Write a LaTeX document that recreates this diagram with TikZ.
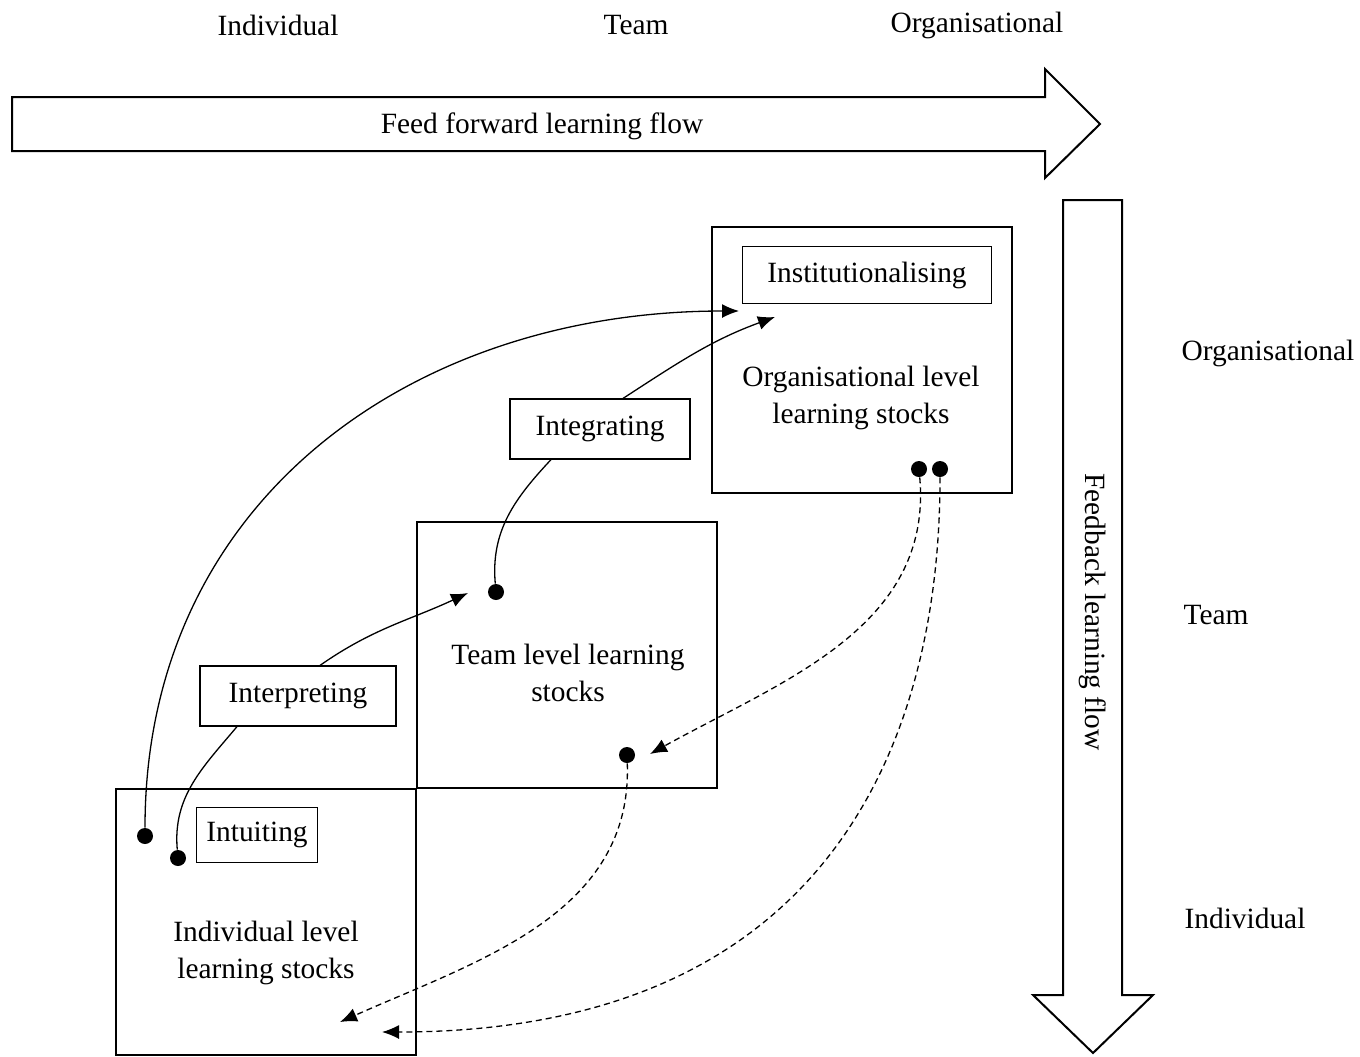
\documentclass[tikz,border=0pt]{standalone}
\usepackage{fontspec}
\setmainfont{Liberation Serif}
\usetikzlibrary{arrows.meta}

\begin{document}
\begin{tikzpicture}[x=0.5pt, y=0.5pt, font=\fontsize{14.7pt}{18.5pt}\selectfont,
                    stock node/.style={draw, line width=1.3pt, minimum width=150pt, minimum height=133pt, inner sep=0pt},
                    process node/.style={draw, line width=0.6pt, inner sep=0pt},
                    dot node/.style={circle, fill, inner sep=0pt, minimum size=8pt},
                    forward line/.style={line width=0.65pt, -{Latex[length=8.5pt,width=7pt]}},
                    back line/.style={forward line, dash pattern=on 3pt off 2pt}]

  \useasboundingbox (0,0) rectangle (1360,-1056);

  % level labels
  \node (top ind) at (278,-25) {Individual};
  \node (top team) at (636,-25) {Team};
  \node (top org) at (977,-25) {Organisational};
  \node (side org) at (1268,-353) {Organisational};
  \node (side team) at (1216,-615) {Team};
  \node (side ind) at (1245,-918) {Individual};

  % the two big flow arrows
  \draw[line width=1pt] (12,-97) -- (1045,-97) -- (1045,-69) -- (1100,-124)
    -- (1045,-178) -- (1045,-151) -- (12,-151) -- cycle;
  \node (ff) at (542,-126) {Feed forward learning flow};
  \draw[line width=1pt] (1063,-200) -- (1122,-200) -- (1122,-995) -- (1153,-995)
    -- (1093,-1053) -- (1033,-995) -- (1063,-995) -- cycle;
  \node[rotate=-90] (fb) at (1093,-612) {Feedback learning flow};

  % stocks
  \node[stock node] (org) at (862,-360) {};
  \node[stock node] (team) at (567,-655) {};
  \node[stock node] (ind) at (266,-922) {};
  \node[align=center] (org text) at (861,-398) {Organisational level\\learning stocks};
  \node[align=center] (team text) at (568,-673) {Team level learning\\stocks};
  \node[align=center] (ind text) at (266,-953) {Individual level\\learning stocks};

  % processes
  \node[process node, minimum width=124.5pt, minimum height=28.5pt] (inst) at (867,-275) {Institutionalising};
  \node[process node, minimum width=98pt, minimum height=30pt] (interp) at (298,-696) {Interpreting};
  \node[process node, minimum width=90pt, minimum height=30pt] (integ) at (600,-429) {Integrating};
  \node[process node, minimum width=60.5pt, minimum height=27.5pt] (intu) at (257,-835) {Intuiting};

  \node[dot node] (d1) at (145,-836) {};
  \node[dot node] (d2) at (178,-858) {};
  \node[dot node] (d3) at (496,-592) {};
  \node[dot node] (d4) at (627,-755) {};
  \node[dot node] (d5) at (919,-469) {};
  \node[dot node] (d6) at (940,-469) {};

  \coordinate (a1) at (739,-311);
  \coordinate (a2) at (775,-317);
  \coordinate (a3) at (468,-593);
  \coordinate (a4) at (650,-754);
  \coordinate (a5) at (382,-1032);
  \coordinate (a6) at (340,-1022);

  % feed forward
  \draw[forward line] (d1) to[out=90, in=180, looseness=1.06] (a1);
  \draw[line width=0.65pt] (d2) to[out=95, in=-130] ([xshift=-30.5pt]interp.south);
  \draw[forward line] ([xshift=11pt]interp.north) to[out=35, in=205] (a3);
  \draw[line width=0.65pt] (d3) to[out=95, in=-133] ([xshift=-24.5pt]integ.south);
  \draw[forward line] ([xshift=11.5pt]integ.north) to[out=33, in=200] (a2);

  % feedback
  \draw[back line] (d5) to[out=-85, in=29] (a4);
  \draw[back line] (d6) to[out=-90, in=0, out looseness=0.5, in looseness=1.7] (a5);
  \draw[back line] (d4) to[out=-88, in=24] (a6);
\end{tikzpicture}
\end{document}
